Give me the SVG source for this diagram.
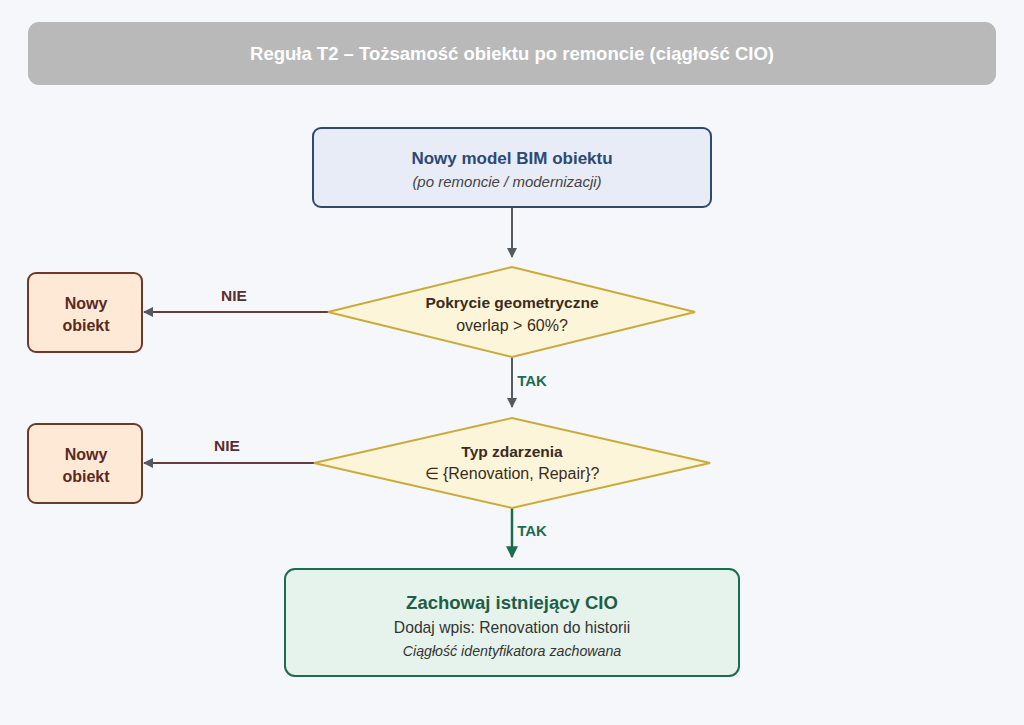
<svg xmlns="http://www.w3.org/2000/svg" width="1024" height="725" viewBox="0 0 1024 725">
<defs>
<style>
text{font-family:"Liberation Sans",Arial,sans-serif;text-anchor:middle}
.b{font-weight:bold}
.i{font-style:italic}
.dia{fill:#fdf5d9;stroke:#c9ab3c;stroke-width:2}
.neg{fill:#fde9d6;stroke:#6b3a2c;stroke-width:2}
.negt{fill:#5a2a22;font-size:16px;font-weight:bold}
.nie{stroke:#6b3a3a;stroke-width:2;fill:none}
.gray{stroke:#555a60;stroke-width:2;fill:none}
</style>
<marker id="agr" viewBox="0 0 10 10" refX="9" refY="5" markerWidth="12" markerHeight="10" orient="auto" markerUnits="userSpaceOnUse"><path d="M0,0 L10,5 L0,10 z" fill="#555a60"/></marker>
<marker id="agn" viewBox="0 0 10 10" refX="9" refY="5" markerWidth="13" markerHeight="12" orient="auto" markerUnits="userSpaceOnUse"><path d="M0,0 L10,5 L0,10 z" fill="#1e6b50"/></marker>
</defs>
<rect width="1024" height="725" fill="#f6f7fb"/>
<g id="header">
<rect x="28" y="22" width="968" height="63" rx="11" fill="#b9b9b9"/>
<text x="512" y="60" fill="#ffffff" font-size="18.5" class="b">Reguła T2 – Tożsamość obiektu po remoncie (ciągłość CIO)</text>
</g>
<g id="connectors">
<line x1="512" y1="207" x2="512" y2="257" class="gray" marker-end="url(#agr)"/>
<line x1="328" y1="312" x2="144" y2="312" class="nie" marker-end="url(#agr)"/>
<text x="234" y="301" class="b" font-size="15.5" fill="#5a2e2e">NIE</text>
<line x1="512" y1="357" x2="512" y2="407" class="gray" marker-end="url(#agr)"/>
<text x="532" y="386" class="b" font-size="15" fill="#1e6b50">TAK</text>
<line x1="314" y1="463" x2="144" y2="463" class="nie" marker-end="url(#agr)"/>
<text x="227" y="451" class="b" font-size="15.5" fill="#5a2e2e">NIE</text>
<line x1="512" y1="508" x2="512" y2="557" stroke="#1e6b50" stroke-width="2.5" marker-end="url(#agn)"/>
<text x="532" y="536" class="b" font-size="15" fill="#1e6b50">TAK</text>
</g>
<g id="start">
<rect x="313" y="128" width="398" height="79" rx="8" fill="#e8ecf7" stroke="#2f4a6c" stroke-width="2"/>
<text x="512" y="164" class="b" font-size="17" fill="#2c4a73">Nowy model BIM obiektu</text>
<text x="507" y="187" class="i" font-size="15" fill="#444">(po remoncie / modernizacji)</text>
</g>
<g id="d1">
<polygon points="328,312 512,267 695,312 512,357" class="dia"/>
<text x="512" y="308" class="b" font-size="15.5" fill="#3a2c1c">Pokrycie geometryczne</text>
<text x="512" y="331" font-size="16" fill="#3a2c1c">overlap &gt; 60%?</text>
</g>
<g id="n1">
<rect x="28" y="273" width="114" height="79" rx="8" class="neg"/>
<text x="86" y="309" class="negt">Nowy</text>
<text x="86" y="331" class="negt">obiekt</text>
</g>
<g id="d2">
<polygon points="314,463 512,418 710,463 512,508" class="dia"/>
<text x="512" y="457" class="b" font-size="15.5" fill="#3a2c1c">Typ zdarzenia</text>
<text x="512" y="479" font-size="16" fill="#3a2c1c">∈ {Renovation, Repair}?</text>
</g>
<g id="n2">
<rect x="28" y="424" width="114" height="79" rx="8" class="neg"/>
<text x="86" y="460" class="negt">Nowy</text>
<text x="86" y="482" class="negt">obiekt</text>
</g>
<g id="end">
<rect x="285" y="569" width="454" height="107" rx="10" fill="#e5f3ec" stroke="#1e6b50" stroke-width="2"/>
<text x="512" y="609" class="b" font-size="18.5" fill="#1e5e48">Zachowaj istniejący CIO</text>
<text x="512" y="633" font-size="15.7" fill="#333">Dodaj wpis: Renovation do historii</text>
<text x="512" y="656" class="i" font-size="14.2" fill="#333">Ciągłość identyfikatora zachowana</text>
</g>
</svg>
